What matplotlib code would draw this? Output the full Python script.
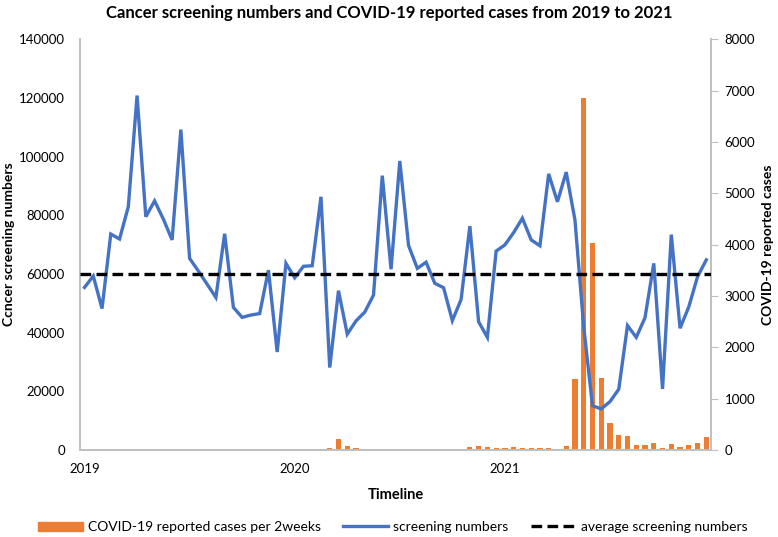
import matplotlib
matplotlib.use("Agg")
import matplotlib.pyplot as plt
from matplotlib.lines import Line2D
from matplotlib.patches import Patch

plt.rcParams['font.family'] = ['Lato', 'DejaVu Sans']

# ---- data (semi-monthly periods, Jan 2019 .. Dec 2021) ----
year_labels = ["2019", "2020", "2021"]
year_tick_index = [0, 24, 48]

screening = [
    55400, 59300, 48200, 73600, 71900, 82900, 120800, 79500, 84900, 78700,
    71600, 109200, 65300, 61000, 56500, 52000, 73700, 48600, 45200, 46000,
    46500, 61300, 33400, 63600, 58700, 62600, 62800, 86300, 28100, 54300,
    39500, 44000, 47000, 52800, 93500, 61600, 98500, 69700, 61900, 64000,
    56800, 55300, 44100, 51300, 76300, 43700, 38400, 67800, 69900, 74100,
    79000, 71600, 69600, 94100, 84600, 94700, 78400, 42000, 15100, 14000,
    16500, 20700, 42400, 38400, 45100, 63600, 20800, 73400, 41500, 48800,
    59100, 64800,
]

covid_cases = [
    0, 0, 0, 0, 0, 0, 0, 0, 0, 0,
    0, 0, 0, 0, 0, 0, 0, 0, 0, 0,
    0, 0, 0, 0, 0, 10, 12, 20, 45, 222,
    78, 33, 12, 0, 0, 0, 0, 8, 5, 0,
    5, 5, 8, 10, 52, 75, 58, 45, 45, 62,
    30, 32, 32, 39, 26, 75, 1377, 6864, 4026, 1396,
    519, 292, 266, 97, 104, 143, 45, 110, 65, 104,
    143, 260,
]

avg_screening = 60000

left_ticks = [0, 20000, 40000, 60000, 80000, 100000, 120000, 140000]
right_ticks = [0, 1000, 2000, 3000, 4000, 5000, 6000, 7000, 8000]

blue = "#4472C4"
orange = "#ED7D31"
gray = "#BFBFBF"

fig = plt.figure(figsize=(7.78, 5.37), dpi=100)
ax = fig.add_axes([0.103, 0.162, 0.8105, 0.765])
ax2 = ax.twinx()

x = list(range(len(screening)))

ax2.bar(x, covid_cases, width=0.6, color=orange, zorder=1)
ax.plot(x, screening, color=blue, lw=2.4, zorder=3, solid_joinstyle='miter')
ax.axhline(avg_screening, color="black", lw=2.4, ls=(0, (3.2, 1.6)), zorder=4)

ax.set_zorder(ax2.get_zorder() + 1)
ax.patch.set_visible(False)

ax.set_xlim(-0.5, len(x) - 0.5)
ax.set_ylim(0, 140000)
ax2.set_ylim(0, 8000)

ax.set_yticks(left_ticks)
ax.set_yticklabels([str(v) for v in left_ticks])
ax2.set_yticks(right_ticks)
ax2.set_yticklabels([str(v) for v in right_ticks])
ax.set_xticks(year_tick_index)
ax.set_xticklabels(year_labels)

ax.tick_params(axis='y', length=0, labelsize=9.5, pad=11)
ax.tick_params(axis='x', length=0, labelsize=9.5, pad=9)
ax2.tick_params(axis='y', length=5, color=gray, labelsize=9.5, pad=5)

for a in (ax, ax2):
    a.spines['top'].set_visible(False)
    for s in ('left', 'right', 'bottom'):
        a.spines[s].set_color(gray)
        a.spines[s].set_linewidth(1.2)

ax.set_ylabel("Ccncer screening numbers", fontsize=10, fontweight='bold', labelpad=3)
ax2.set_ylabel("COVID-19 reported cases", fontsize=10, fontweight='bold', labelpad=5)
ax.set_xlabel("Timeline", fontsize=10.5, fontweight='bold', labelpad=10)

fig.suptitle("Cancer screening numbers and COVID-19 reported cases from 2019 to 2021",
             fontsize=12, fontweight='bold', y=0.99)

handles = [
    Patch(color=orange, label="COVID-19 reported cases per 2weeks"),
    Line2D([0], [0], color=blue, lw=2.4, label="screening numbers"),
    Line2D([0], [0], color="black", lw=2.4, ls=(0, (3.2, 1.6)), label="average screening numbers"),
]
fig.legend(handles=handles, loc='center', bbox_to_anchor=(0.505, 0.018), ncol=3,
           frameon=False, fontsize=10, handlelength=3.2, columnspacing=1.6,
           handletextpad=0.4)

fig.savefig("out.png", dpi=100)
